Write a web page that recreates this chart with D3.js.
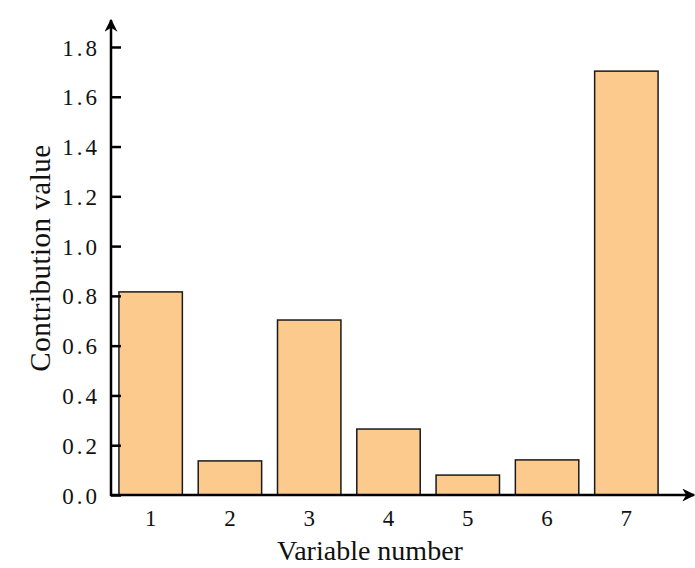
<!DOCTYPE html>
<html>
<head>
<meta charset="utf-8">
<script src="https://cdn.jsdelivr.net/npm/d3@7"></script>
<style>
  body { margin: 0; background: #fff; }
  svg text { font-family: "Liberation Serif", "DejaVu Serif", serif; fill: #111; }
</style>
</head>
<body>
<div id="chart"></div>
<script>
// Data
const variables = ['1', '2', '3', '4', '5', '6', '7'];
const contributions = [0.816, 0.137, 0.703, 0.265, 0.080, 0.141, 1.703];
const yTicks = [0, 0.2, 0.4, 0.6, 0.8, 1.0, 1.2, 1.4, 1.6, 1.8];

const width = 695, height = 568;
const origin = { x: 111, y: 495 };

const svg = d3.select('#chart')
    .append('svg')
    .attr('width', width)
    .attr('height', height);

// arrow marker
svg.append('defs').append('marker')
    .attr('id', 'arrow')
    .attr('viewBox', '0 0 10 10')
    .attr('refX', 9).attr('refY', 5)
    .attr('markerWidth', 14).attr('markerHeight', 13)
    .attr('markerUnits', 'userSpaceOnUse')
    .attr('orient', 'auto')
    .append('path')
    .attr('d', 'M0,0 L10,5 L0,10 L3,5 Z')
    .attr('fill', '#000');

const x = d3.scaleBand()
    .domain(variables)
    .range([origin.x, 666])
    .paddingInner(0.2)
    .paddingOuter(0.1);

const y = d3.scaleLinear()
    .domain([0, 1.9])
    .range([origin.y, origin.y - 1.9 * 248.9]);

// Bars
svg.selectAll('.bar')
    .data(contributions)
    .join('rect')
    .attr('class', 'bar')
    .attr('x', (d, i) => x(variables[i]))
    .attr('y', d => y(d))
    .attr('width', x.bandwidth())
    .attr('height', d => y(0) - y(d))
    .attr('fill', '#fdca8e')
    .attr('stroke', '#1a1a1a')
    .attr('stroke-width', 1.5);

// Y axis (ticks pointing inward)
const yAxis = svg.append('g')
    .attr('transform', `translate(${origin.x},0)`)
    .call(d3.axisRight(y).tickValues(yTicks).tickSize(10).tickFormat(d3.format('.1f')));
yAxis.select('.domain').remove();
yAxis.selectAll('.tick line').attr('stroke', '#000').attr('stroke-width', 2.5);
yAxis.selectAll('.tick text')
    .attr('x', -11)
    .attr('dy', '0.35em')
    .attr('text-anchor', 'end')
    .attr('font-size', 23)
    .attr('letter-spacing', 3)
    .style('font-family', '"Liberation Serif", serif');

svg.append('line')
    .attr('x1', origin.x).attr('y1', origin.y + 1)
    .attr('x2', origin.x).attr('y2', 20)
    .attr('stroke', '#000').attr('stroke-width', 2.5)
    .attr('marker-end', 'url(#arrow)');

// X axis
const xAxis = svg.append('g')
    .attr('transform', `translate(0,${origin.y})`)
    .call(d3.axisBottom(x).tickSize(0).tickPadding(15));
xAxis.select('.domain').remove();
xAxis.selectAll('.tick text')
    .attr('font-size', 23)
    .style('font-family', '"Liberation Serif", serif');

svg.append('line')
    .attr('x1', origin.x - 1).attr('y1', origin.y)
    .attr('x2', 694).attr('y2', origin.y)
    .attr('stroke', '#000').attr('stroke-width', 2.5)
    .attr('marker-end', 'url(#arrow)');

// Axis titles
svg.append('text')
    .attr('x', 370).attr('y', 560)
    .attr('text-anchor', 'middle')
    .attr('font-size', 28)
    .text('Variable number');

svg.append('text')
    .attr('transform', 'translate(50,258) rotate(-90)')
    .attr('text-anchor', 'middle')
    .attr('font-size', 29)
    .attr('letter-spacing', 0.5)
    .text('Contribution value');
</script>
</body>
</html>
